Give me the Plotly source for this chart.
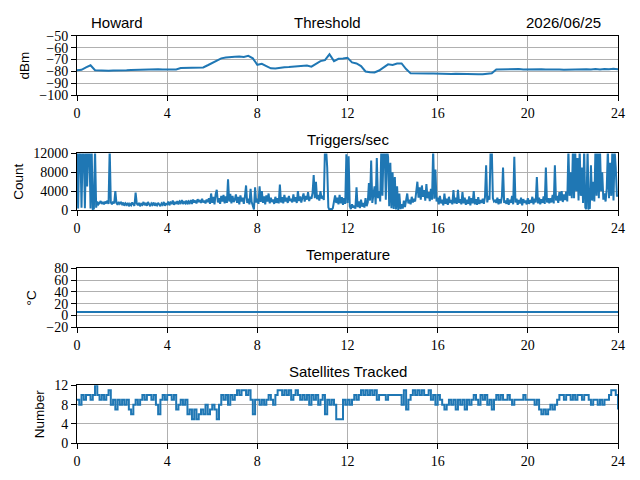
import plotly.graph_objects as go

# ---------------- data ----------------
thr_step = 0.2  # hours between threshold samples
threshold_dbm = [
    -79.0, -78.6, -76.5, -74.8, -79.0,
    -79.3, -79.2, -79.4, -79.1, -79.2,
    -79.0, -78.9, -78.7, -78.6, -78.3,
    -78.2, -78.0, -78.3, -78.1, -78.4,
    -78.2, -78.5, -78.3, -77.2, -77.0,
    -76.9, -77.0, -76.8, -76.6, -74.8,
    -72.8, -70.5, -69.0, -68.3, -67.8,
    -67.6, -67.5, -67.8, -66.9, -69.0,
    -74.4, -73.6, -75.5, -77.4, -77.6,
    -76.8, -76.4, -76.2, -75.8, -75.2,
    -75.3, -75.0, -76.0, -73.5, -71.3,
    -70.5, -65.6, -71.3, -69.4, -69.2,
    -68.6, -72.4, -73.3, -75.5, -80.0,
    -80.6, -80.9, -79.2, -76.5, -74.0,
    -74.6, -73.4, -73.3, -78.0, -81.6,
    -81.8, -81.7, -81.9, -81.8, -81.7,
    -81.9, -82.0, -81.8, -82.1, -82.0,
    -82.2, -82.1, -82.3, -82.2, -82.4,
    -82.3, -82.2, -81.5, -78.3, -78.2,
    -78.4, -78.1, -78.3, -78.0, -78.4,
    -78.2, -78.5, -78.3, -78.1, -78.4,
    -78.2, -78.5, -78.3, -78.6, -78.4,
    -78.2, -78.5, -78.3, -78.1, -78.4,
    -78.0, -78.3, -77.9, -78.2, -77.8,
    -78.1,
]

trig_step = 0.05  # hours between trigger samples
triggers = [
    13000, 300, 13000, 13000, 500, 13000, 13000, 400, 13000, 5000, 13000, 13000, 300, 13000, 200, 300, 13000, 500, 1800, 1200,
    1500, 1900, 1300, 1700, 1200, 1800, 1400, 2000, 1300, 13000, 1600, 1200, 1800, 1400, 4000, 1500, 1100, 1700, 1300, 1600,
    1200, 1600, 900, 1400, 1100, 1500, 800, 1300, 1000, 1600, 1200, 900, 3700, 1400, 1000, 1500, 800, 1300, 1100, 1700,
    1000, 1500, 900, 1700, 1200, 800, 1400, 1100, 1600, 900, 1300, 1000, 1500, 1200, 800, 1400, 1100, 1700, 900, 1300,
    1200, 1800, 1000, 1600, 1400, 2000, 1100, 1700, 1300, 1900, 1200, 1800, 1500, 2100, 1300, 1700, 1400, 2000, 1200, 1800,
    1500, 2100, 1300, 2200, 1600, 2000, 1400, 2300, 1700, 2100, 1500, 2400, 1600, 2000, 1400, 2200, 1700, 2500, 1300, 3500,
    1500, 2800, 1200, 3300, 4300, 1600, 2500, 1300, 3000, 1800, 3200, 1400, 2900, 1500, 6500, 1800, 3400, 1400, 3000, 1700,
    2200, 3300, 1500, 2800, 1200, 3100, 1800, 2600, 1300, 2900, 5200, 1500, 2400, 1200, 4500, 1700, 600, 100, 4800, 1600,
    2400, 1300, 5000, 1700, 4000, 1500, 2900, 1200, 3100, 1800, 3500, 1400, 2600, 1700, 2200, 1300, 2800, 1500, 2500, 1400,
    5400, 1600, 2700, 1400, 3200, 1800, 2600, 1500, 3000, 1900, 2400, 1600, 3300, 1800, 2700, 1500, 4000, 1900, 2900, 1600,
    2600, 3500, 1800, 3000, 2200, 3800, 1900, 2800, 2400, 3600, 7400, 2500, 6000, 2300, 3200, 2000, 4000, 2400, 3000, 2100,
    13000, 13000, 9000, 600, 0, 200, 100, 400, 1800, 3100, 1500, 2600, 1200, 3200, 1400, 2700, 1100, 2500, 1300, 11800,
    1500, 11400, 800, 200, 1200, 500, 900, 300, 4800, 600, 1800, 400, 2200, 700, 1500, 500, 2500, 800, 1600, 5700,
    2000, 10500, 1500, 3000, 5000, 1200, 11000, 2500, 4000, 1800, 13000, 3000, 13000, 13000, 2200, 13000, 11200, 800, 10000, 400,
    8000, 200, 7000, 100, 5000, 0, 3500, 200, 1200, 300, 2000, 600, 1800, 3500, 1400, 2200, 1200, 2800, 1600, 2400,
    1800, 3500, 6000, 2600, 4800, 2200, 5200, 2800, 4200, 2000, 5500, 2500, 3800, 1900, 4500, 2200, 13000, 2400, 8600, 1800,
    2600, 1200, 3000, 1400, 2200, 1000, 3500, 1300, 2400, 1100, 2800, 1500, 2100, 1200, 4200, 1400, 2600, 1300, 4300, 1500,
    2300, 1200, 3800, 1400, 2600, 1100, 2200, 1300, 2900, 1000, 2500, 1400, 4000, 1200, 2300, 1100, 2700, 1300, 2100, 1500,
    2400, 1300, 2800, 9500, 1600, 3000, 2200, 13000, 13000, 2500, 1800, 2000, 1500, 2600, 1200, 2300, 1400, 2800, 9000, 1500,
    2000, 1300, 2500, 1100, 2200, 1500, 3000, 1200, 11300, 1600, 2400, 1100, 2100, 1400, 2600, 1000, 2300, 1500, 2000, 1200,
    2500, 1300, 2100, 1500, 2800, 1200, 2400, 1600, 7000, 1400, 2600, 1200, 2300, 1500, 2900, 1300, 9000, 1600, 2500, 1400,
    2500, 1600, 3200, 1400, 9500, 2000, 3000, 1500, 3800, 2000, 4000, 1700, 3300, 2100, 3900, 1800, 13000, 3000, 8000, 2500,
    13000, 2500, 13000, 4000, 11000, 2000, 13000, 3000, 9000, 1500, 13000, 500, 200, 13000, 300, 400, 9500, 2000, 6000, 1800,
    13000, 3000, 13000, 2500, 13000, 4000, 8000, 2200, 3500, 1800, 4500, 13000, 2500, 10000, 3000, 13000, 2000, 12500, 9000, 3000,
    3000,
]

temp_step = 1.0  # hours between temperature samples
temperature_c = [
    6.1, 6.1, 6.0, 6.1, 6.1, 6.0, 6.1, 6.1, 6.0, 6.1, 6.1, 6.0, 6.1,
    6.1, 6.0, 6.1, 6.1, 6.0, 6.1, 6.1, 6.0, 6.1, 6.1, 6.0, 6.1,
]

sat_step = 0.1  # hours between satellite samples
satellites = [
    9, 8, 10, 9, 10, 10, 9, 10, 12, 10,
    9, 10, 9, 10, 11, 8, 9, 7, 9, 8,
    9, 8, 9, 7, 6, 8, 9, 8, 9, 10,
    9, 10, 10, 9, 10, 8, 6, 9, 10, 9,
    10, 10, 9, 10, 7, 8, 9, 8, 9, 6,
    7, 5, 7, 5, 6, 7, 6, 8, 6, 7,
    8, 7, 5, 8, 10, 9, 10, 8, 10, 9,
    10, 11, 10, 11, 11, 10, 11, 9, 6, 9,
    9, 8, 9, 8, 9, 10, 9, 8, 10, 11,
    11, 10, 11, 10, 11, 9, 10, 11, 10, 9,
    10, 9, 10, 8, 10, 9, 10, 8, 9, 10,
    6, 9, 8, 9, 8, 5, 5, 5, 9, 8,
    9, 8, 9, 10, 9, 10, 11, 10, 11, 10,
    11, 10, 11, 9, 10, 10, 10, 9, 10, 10,
    10, 10, 10, 10, 8, 11, 7, 9, 10, 11,
    10, 11, 10, 11, 10, 10, 11, 9, 10, 8,
    10, 9, 8, 7, 8, 9, 8, 9, 7, 9,
    8, 9, 7, 9, 8, 9, 10, 9, 8, 10,
    9, 10, 8, 9, 7, 9, 10, 9, 10, 9,
    9, 10, 9, 8, 9, 9, 9, 9, 10, 9,
    9, 9, 9, 8, 9, 7, 6, 7, 6, 7,
    8, 7, 8, 9, 10, 10, 9, 10, 10, 9,
    10, 9, 10, 10, 9, 10, 10, 9, 8, 9,
    9, 8, 9, 8, 9, 9, 10, 11, 11, 10,
    7,
]

x_ticks = [0, 4, 8, 12, 16, 20, 24]
thr_ticks = [-100, -90, -80, -70, -60, -50]
trig_ticks = [0, 4000, 8000, 12000]
temp_ticks = [-20, 0, 20, 40, 60, 80]
sat_ticks = [0, 4, 8, 12]

station = "Howard"
date_text = "2026/06/25"

# ---------------- figure ----------------
OFF = 8                      # page body margin of the browser
W, H = 640 - OFF, 480 - OFF  # figure fills the window exactly
L, R = 77 - OFF, 618.5 - OFF
T, B = 20, 12
BLUE = "#1f77b4"
PH = H - T - B


def yp(py):  # screen pixel y -> paper fraction
    return (H - B - (py - OFF)) / PH


def ydom(top, bottom):
    return [yp(bottom), yp(top)]


def xp(px):  # screen pixel x -> paper fraction
    return (px - OFF - L) / (R - L)


panels = [
    dict(x=[i * thr_step for i in range(len(threshold_dbm))], y=threshold_dbm,
         rng=[-100, -50], ticks=thr_ticks, label="dBm", dom=ydom(35.7, 95.3), shape="linear"),
    dict(x=[i * trig_step for i in range(len(triggers))], y=triggers,
         rng=[0, 12000], ticks=trig_ticks, label="Count", dom=ydom(153.4, 210.0), shape="linear"),
    dict(x=[i * temp_step for i in range(len(temperature_c))], y=temperature_c,
         rng=[-20, 80], ticks=temp_ticks, label="°C", dom=ydom(268.3, 327.3), shape="linear"),
    dict(x=[i * sat_step for i in range(len(satellites))], y=satellites,
         rng=[0, 12], ticks=sat_ticks, label="Number", dom=ydom(385.3, 443.3), shape="hv"),
]

fig = go.Figure()
tick_font = dict(family="Liberation Serif, DejaVu Serif, serif", size=14, color="black")
label_font = dict(family="Liberation Sans, Arial, sans-serif", size=13.5, color="black")

layout = dict(
    width=W, height=H,
    margin=dict(l=L, r=W - R, t=T, b=B, pad=0, autoexpand=False),
    paper_bgcolor="white", plot_bgcolor="white",
    showlegend=False,
)

for i, p in enumerate(panels, start=1):
    xa = "x" if i == 1 else f"x{i}"
    ya = "y" if i == 1 else f"y{i}"
    fig.add_trace(go.Scatter(x=p["x"], y=p["y"], mode="lines", xaxis=xa, yaxis=ya,
                             line=dict(color=BLUE, width=2, shape=p["shape"]),
                             hoverinfo="skip"))
    axis_common = dict(showline=True, linecolor="black", linewidth=1, mirror=True,
                       ticks="outside", ticklen=5, tickwidth=1, tickcolor="black",
                       showgrid=True, gridcolor="#b0b0b0", gridwidth=1,
                       zeroline=False, tickfont=tick_font, automargin=False)
    layout["xaxis" if i == 1 else f"xaxis{i}"] = dict(
        axis_common, domain=[0, 1], range=[0, 24], tickvals=x_ticks,
        ticktext=[str(t) for t in x_ticks], anchor=ya)
    layout["yaxis" if i == 1 else f"yaxis{i}"] = dict(
        axis_common, domain=p["dom"], range=p["rng"], tickvals=p["ticks"],
        ticktext=[str(t).replace("-", "\u2212") for t in p["ticks"]], anchor=xa,
        title=dict(text=p["label"], font=label_font, standoff=6))

title_font = dict(family="Liberation Sans, Arial, sans-serif", size=15, color="black")
annotations = [
    dict(text=station, x=xp(89), y=yp(23), xanchor="left", yanchor="middle"),
    dict(text="Threshold", x=xp(328), y=yp(23), xanchor="center", yanchor="middle"),
    dict(text=date_text, x=xp(603), y=yp(23), xanchor="right", yanchor="middle"),
    dict(text="Triggers/sec", x=xp(348), y=yp(139), xanchor="center", yanchor="middle"),
    dict(text="Temperature", x=xp(348), y=yp(254), xanchor="center", yanchor="middle"),
    dict(text="Satellites Tracked", x=xp(348), y=yp(371), xanchor="center", yanchor="middle"),
]
layout["annotations"] = [dict(a, xref="paper", yref="paper", showarrow=False, font=title_font)
                         for a in annotations]

fig.update_layout(**layout)
fig.write_html("out.html")
